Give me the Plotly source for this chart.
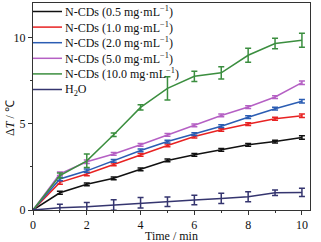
import plotly.graph_objects as go

time_min = [0, 1, 2, 3, 4, 5, 6, 7, 8, 9, 10]

names = [
    "N-CDs (0.5 mg·mL<sup>−1</sup>)",
    "N-CDs (1.0 mg·mL<sup>−1</sup>)",
    "N-CDs (2.0 mg·mL<sup>−1</sup>)",
    "N-CDs (5.0 mg·mL<sup>−1</sup>)",
    "N-CDs (10.0 mg·mL<sup>−1</sup>)",
    "H<sub>2</sub>O",
]
colors = ["#111111", "#e82222", "#2b5db3", "#b560c4", "#3b8e3f", "#35356f"]

dT_05 = [0, 1.00, 1.49, 1.84, 2.36, 2.87, 3.20, 3.49, 3.78, 3.97, 4.20]
dT_10 = [0, 1.60, 2.09, 2.65, 3.20, 3.74, 4.26, 4.65, 4.98, 5.29, 5.46]
dT_20 = [0, 1.80, 2.27, 2.85, 3.45, 3.97, 4.40, 4.86, 5.38, 5.87, 6.30]
dT_50 = [0, 2.10, 2.80, 3.25, 3.78, 4.36, 4.90, 5.48, 5.97, 6.55, 7.38]
dT_100 = [0, 2.00, 2.85, 4.36, 5.95, 7.05, 7.75, 7.95, 8.97, 9.65, 9.84]
dT_h2o = [0, 0.13, 0.19, 0.29, 0.42, 0.48, 0.58, 0.67, 0.77, 1.00, 1.02]

err_05 = [0.05, 0.08, 0.08, 0.08, 0.08, 0.08, 0.08, 0.08, 0.08, 0.08, 0.1]
err_10 = [0.05, 0.1, 0.1, 0.08, 0.08, 0.08, 0.08, 0.08, 0.08, 0.08, 0.1]
err_20 = [0.05, 0.1, 0.1, 0.08, 0.08, 0.08, 0.08, 0.08, 0.08, 0.08, 0.1]
err_50 = [0.05, 0.1, 0.1, 0.08, 0.08, 0.08, 0.08, 0.08, 0.08, 0.08, 0.1]
err_100 = [0.05, 0.15, 0.39, 0.1, 0.15, 0.67, 0.3, 0.35, 0.4, 0.3, 0.4]
err_h2o = [0.05, 0.21, 0.25, 0.3, 0.31, 0.28, 0.27, 0.3, 0.29, 0.16, 0.24]

series = [dT_05, dT_10, dT_20, dT_50, dT_100, dT_h2o]
errors = [err_05, err_10, err_20, err_50, err_100, err_h2o]

font_family = "Liberation Serif, Times New Roman, serif"

W, H = 321, 242
L, R, T, B = 33, 11, 3, 32
plot_w = W - L - R
plot_h = H - T - B

fig = go.Figure()
for name, ys, es, c in zip(names, series, errors, colors):
    fig.add_trace(go.Scatter(
        x=time_min, y=ys, mode="lines", name=name,
        line=dict(color=c, width=1.5),
        error_y=dict(type="data", array=es, color=c, thickness=1.5, width=3),
        cliponaxis=False, showlegend=False,
    ))

# manual legend (compact spacing like the reference)
row_y0 = 11.5
row_dy = 15.6
for i, (name, c) in enumerate(zip(names, colors)):
    ypix = row_y0 + i * row_dy
    yp = 1 - (ypix - T) / plot_h
    fig.add_shape(type="line", xref="paper", yref="paper",
                  x0=0.0, x1=29 / plot_w, y0=yp, y1=yp,
                  line=dict(color=c, width=1.5))
    fig.add_annotation(xref="paper", yref="paper", x=30 / plot_w, y=yp,
                       text=name, showarrow=False, xanchor="left",
                       yanchor="middle",
                       font=dict(family=font_family, size=12, color="#111111"))

# axis titles
fig.add_annotation(xref="paper", yref="paper", x=0.5, y=-(236 - (T + plot_h)) / plot_h,
                   text="Time / min", showarrow=False, xanchor="center", yanchor="middle",
                   font=dict(family=font_family, size=12, color="#111111"))
fig.add_annotation(xref="paper", yref="paper", x=-(33 - 10) / plot_w,
                   y=1 - (118 - T) / plot_h,
                   text="Δ<i>T</i> / ℃", showarrow=False, textangle=-90,
                   xanchor="center", yanchor="middle",
                   font=dict(family=font_family, size=12, color="#111111"))

fig.update_layout(
    width=W, height=H,
    margin=dict(l=L, r=R, t=T, b=B),
    paper_bgcolor="white", plot_bgcolor="white",
    font=dict(family=font_family, size=12, color="#111111"),
    showlegend=False,
)
fig.update_xaxes(
    range=[0, 10.3], tickvals=[0, 2, 4, 6, 8, 10],
    ticks="outside", ticklen=4, tickcolor="#333",
    minor=dict(tickvals=[1, 3, 5, 7, 9], ticks="outside", ticklen=2, tickcolor="#333"),
    showline=True, linecolor="#333", linewidth=1, mirror=True,
    showgrid=False, zeroline=False, automargin=False,
    tickfont=dict(size=12),
)
fig.update_yaxes(
    range=[0, 12], tickvals=[0, 5, 10],
    ticks="outside", ticklen=4, tickcolor="#333",
    minor=dict(tickvals=[2.5, 7.5], ticks="outside", ticklen=2, tickcolor="#333"),
    showline=True, linecolor="#333", linewidth=1, mirror=True,
    showgrid=False, zeroline=False, automargin=False,
    tickfont=dict(size=12),
)

fig.write_html("out.html", config={"displayModeBar": False},
               post_script="document.body.style.margin='0';")
